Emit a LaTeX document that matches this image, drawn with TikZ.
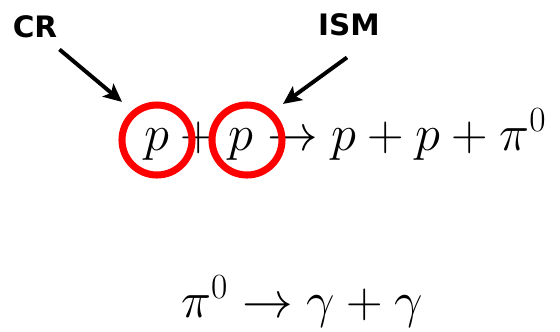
\RequirePackage{fix-cm}
\documentclass[tikz,border=0pt]{standalone}
\usepackage{fontspec}
\usepackage{tikz}
\usetikzlibrary{arrows.meta, positioning}
\newfontfamily\labfont{DejaVu Sans}

\begin{document}
\begin{tikzpicture}[x=0.025cm, y=-0.025cm,
  lab/.style={font=\labfont\bfseries\fontsize{21}{24}\selectfont, inner sep=0pt},
  ring/.style={circle, draw=red, line width=5pt, minimum size=1.75cm, inner sep=0pt},
  eq/.style={font=\fontsize{36}{40}\selectfont, inner sep=0pt, anchor=base west},
  arr/.style={-{Stealth[length=13pt, width=12pt, inset=3pt]}, line width=2.8pt}]
  \useasboundingbox (0,0) rectangle (560,331);
  \node[eq] (reac) at (144,150) {$p+p\to p+p+\pi^0$};
  \node[eq] (decay) at (181,317) {$\pi^0\to\gamma+\gamma$};
  \node[ring] (pcr) at (157,140) {};
  \node[ring] (pism) at (247,140) {};
  \node[lab] (crlab) at (35,27) {CR};
  \node[lab] (ismlab) at (349,25) {ISM};
  \draw[arr, shorten >=9.5pt] ([shift={(2,11)}]crlab.south east) -- (pcr.130);
  \draw[arr, shorten >=9pt] ([shift={(-2,21)}]ismlab.south) -- (pism.48);
\end{tikzpicture}
\end{document}
